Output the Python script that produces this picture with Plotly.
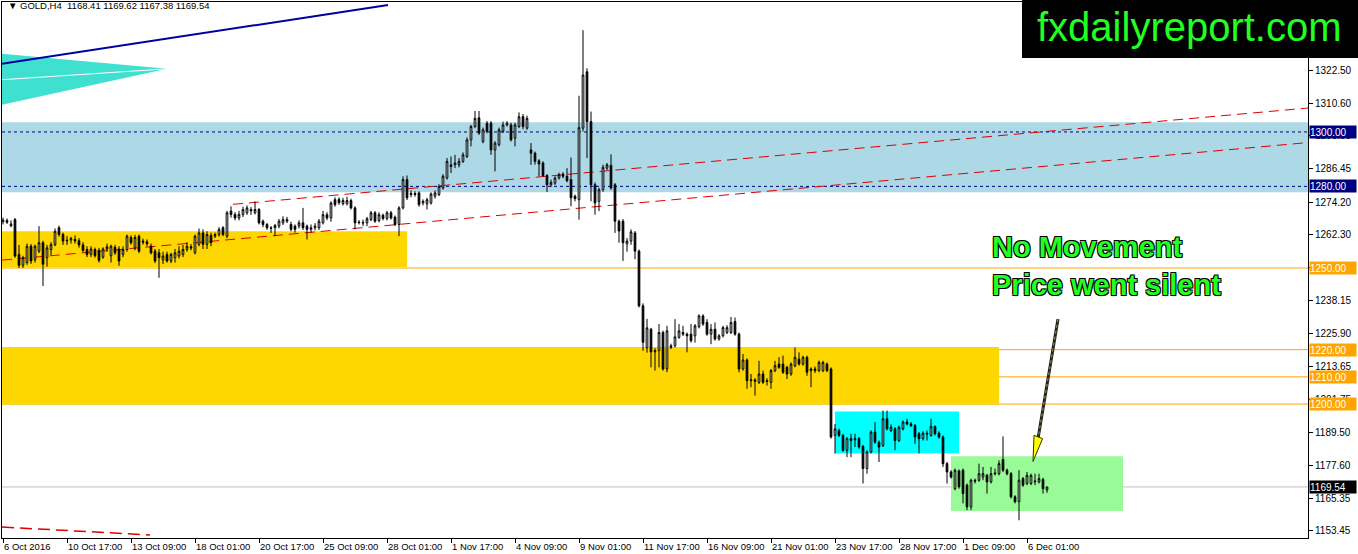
import plotly.graph_objects as go

# ---------------- data (GOLD, H4) ----------------
opens = [
 1267.0,1267.5,1265.5,1267.8,1255.0,1251.0,1252.0,1258.0,1253.0,1256.2,
 1259.3,1253.8,1256.8,1258.6,1264.8,1262.3,1260.2,1260.3,1260.5,1260.0,
 1258.5,1256.8,1255.0,1256.8,1256.5,1254.0,1257.0,1254.5,1257.6,1257.0,
 1255.0,1256.8,1261.2,1257.4,1261.7,1259.9,1259.6,1258.0,1256.2,1255.6,
 1253.0,1255.0,1252.6,1253.8,1254.4,1255.0,1256.8,1257.8,1255.6,1258.7,
 1262.9,1258.7,1262.0,1261.7,1262.3,1264.8,1261.7,1270.9,1269.7,1268.4,
 1269.6,1270.3,1271.5,1270.3,1271.5,1267.2,1266.0,1264.8,1264.8,1265.4,
 1266.6,1267.2,1266.0,1265.4,1265.4,1266.6,1265.4,1264.2,1264.8,1264.8,
 1266.6,1269.6,1268.4,1275.1,1275.2,1273.6,1273.6,1274.8,1272.1,1266.9,
 1266.5,1266.6,1267.8,1270.3,1267.4,1269.4,1268.2,1270.3,1268.7,1266.0,
 1272.1,1282.5,1277.0,1277.4,1277.6,1273.9,1273.6,1273.9,1276.4,1277.0,
 1279.4,1283.1,1287.9,1287.9,1287.9,1289.2,1291.0,1297.1,1302.0,1305.2,
 1296.5,1303.2,1303.2,1293.4,1295.3,1300.2,1302.6,1302.6,1297.7,1302.0,
 1305.6,1301.4,1293.4,1292.2,1289.4,1288.6,1284.0,1280.6,1281.2,1283.1,
 1284.5,1283.7,1282.5,1276.4,1275.1,1301.4,1322.1,1303.8,1280.6,1274.5,
 1278.8,1286.7,1287.7,1280.6,1267.2,1267.2,1258.9,1259.9,1262.9,1256.2,
 1236.1,1220.7,1227.5,1219.2,1219.6,1226.3,1212.9,1221.4,1221.4,1224.5,
 1226.3,1225.7,1225.7,1225.1,1228.4,1232.4,1230.0,1225.7,1227.5,1223.9,
 1225.1,1226.3,1226.3,1230.3,1225.7,1212.9,1216.2,1208.6,1208.9,1208.0,
 1211.05,1208.6,1208.0,1212.3,1214.7,1214.7,1213.5,1211.05,1214.1,1216.5,
 1214.7,1217.2,1212.3,1212.9,1212.3,1212.3,1214.7,1212.9,1188.5,1190.3,
 1188.5,1183.0,1187.3,1186.9,1187.3,1184.4,1176.3,1182.4,1189.7,1186.0,
 1184.8,1194.6,1190.3,1190.9,1186.6,1190.9,1193.4,1192.7,1192.1,1189.1,
 1187.3,1189.3,1188.5,1191.8,1189.3,1187.9,1178.1,1175.05,1168.9,1175.4,
 1175.7,1170.2,1162.2,1172.0,1172.0,1173.2,1173.8,1171.4,1174.7,1174.4,
 1179.6,1175.7,1174.4,1165.9,1164.1,1172.6,1170.8,1170.8,1171.4,1171.4,
 1172.3,1168.41]
highs = [
 1268.5,1268.2,1267.5,1268.4,1258.5,1254.5,1259.0,1258.8,1258.6,1265.4,
 1260.0,1258.5,1259.5,1264.5,1265.6,1263.0,1261.7,1261.5,1262.0,1261.0,
 1259.5,1258.0,1258.0,1257.5,1257.4,1257.6,1259.0,1258.6,1258.5,1258.0,
 1258.0,1262.3,1262.0,1262.2,1262.3,1260.8,1260.5,1259.0,1257.0,1257.0,
 1256.0,1256.0,1255.6,1257.0,1258.0,1258.5,1259.5,1258.8,1262.3,1264.5,
 1264.2,1263.5,1263.0,1263.0,1265.0,1265.4,1271.0,1272.7,1270.5,1271.0,
 1272.5,1273.0,1272.4,1274.5,1272.0,1267.8,1266.6,1265.4,1266.2,1268.0,
 1269.0,1268.8,1267.0,1266.0,1267.5,1272.1,1266.0,1266.0,1266.5,1268.0,
 1271.0,1270.5,1274.5,1276.0,1276.0,1275.8,1276.2,1275.5,1272.7,1267.6,
 1267.8,1268.8,1271.0,1270.9,1270.5,1270.0,1271.0,1271.0,1269.3,1272.7,
 1283.7,1284.0,1278.5,1278.2,1278.2,1275.2,1275.8,1277.8,1278.5,1280.8,
 1284.5,1290.4,1291.0,1291.6,1290.4,1292.5,1298.0,1302.6,1307.7,1307.7,
 1301.6,1304.0,1304.0,1296.6,1301.6,1303.8,1304.0,1303.4,1303.4,1307.2,
 1306.6,1306.0,1295.9,1292.8,1290.0,1289.2,1284.5,1282.5,1283.7,1285.0,
 1285.2,1286.7,1290.6,1277.0,1313.3,1337.4,1323.4,1307.5,1281.5,1279.5,
 1288.0,1288.6,1291.8,1281.2,1267.8,1268.0,1261.0,1264.2,1263.6,1256.8,
 1237.0,1231.3,1228.0,1220.5,1229.4,1227.0,1228.75,1222.2,1231.2,1229.4,
 1228.75,1226.3,1229.4,1229.4,1233.0,1233.0,1231.2,1229.4,1230.0,1225.7,
 1228.75,1229.0,1232.0,1231.8,1226.3,1218.4,1216.8,1211.05,1209.5,1215.9,
 1212.3,1209.5,1212.9,1215.9,1217.2,1217.8,1214.1,1215.3,1220.8,1219.0,
 1217.8,1217.8,1213.5,1213.8,1216.0,1215.9,1215.3,1213.5,1192.7,1191.0,
 1189.1,1187.9,1189.1,1189.1,1187.9,1185.0,1183.0,1190.3,1193.4,1186.6,
 1197.6,1197.6,1192.5,1191.5,1192.1,1194.0,1194.6,1193.4,1192.7,1189.7,
 1190.0,1190.3,1194.6,1192.1,1190.0,1188.5,1178.7,1175.7,1176.3,1176.0,
 1176.3,1170.8,1172.6,1172.6,1178.1,1176.9,1174.4,1176.9,1176.3,1179.3,
 1188.1,1176.3,1175.05,1166.5,1175.7,1173.2,1175.05,1174.4,1174.4,1174.4,
 1172.9,1169.62]
lows = [
 1266.0,1266.2,1265.0,1253.8,1250.0,1250.0,1251.2,1251.5,1252.0,1255.5,
 1243.4,1250.5,1254.8,1258.0,1261.5,1258.5,1258.5,1259.0,1259.0,1257.5,
 1255.8,1254.0,1254.0,1253.8,1252.0,1253.4,1256.0,1252.0,1254.8,1250.8,
 1254.0,1256.0,1258.6,1256.5,1255.5,1258.6,1258.0,1255.0,1251.8,1246.4,
 1251.5,1252.0,1251.8,1252.0,1253.5,1254.0,1256.0,1256.5,1255.0,1258.0,
 1257.0,1257.0,1258.0,1261.0,1261.5,1261.7,1261.0,1268.5,1267.5,1267.5,
 1268.7,1269.5,1269.5,1269.7,1266.0,1265.0,1264.0,1262.9,1261.7,1264.6,
 1265.8,1266.5,1263.5,1263.0,1264.5,1264.0,1260.5,1263.0,1263.8,1264.0,
 1266.0,1267.6,1267.0,1272.5,1273.2,1273.0,1273.0,1271.5,1264.2,1266.0,
 1265.4,1265.4,1267.2,1266.6,1266.8,1267.5,1267.5,1267.8,1265.4,1261.7,
 1271.5,1275.0,1276.0,1276.2,1272.5,1273.0,1271.5,1273.3,1275.5,1276.4,
 1278.8,1282.5,1284.9,1286.7,1287.0,1288.6,1290.4,1294.7,1301.4,1298.9,
 1295.8,1299.5,1291.6,1285.5,1294.7,1299.6,1302.0,1296.5,1294.7,1301.4,
 1301.0,1300.8,1287.9,1288.0,1283.7,1283.5,1277.9,1279.8,1280.5,1282.5,
 1283.0,1281.5,1272.7,1274.5,1267.8,1300.2,1290.4,1274.5,1269.6,1270.9,
 1278.0,1286.0,1278.8,1262.9,1259.3,1252.6,1256.0,1258.5,1253.2,1235.5,
 1219.6,1218.9,1213.5,1212.3,1213.5,1212.3,1211.7,1220.2,1220.8,1224.0,
 1225.0,1219.0,1222.6,1222.6,1227.8,1228.75,1225.1,1222.0,1223.3,1223.3,
 1224.5,1225.7,1225.7,1225.1,1211.7,1212.3,1205.6,1206.2,1203.1,1207.4,
 1207.4,1206.8,1205.6,1211.7,1212.9,1211.05,1209.2,1210.4,1213.5,1214.1,
 1214.1,1210.4,1206.2,1211.4,1211.7,1211.7,1211.7,1187.3,1181.8,1187.9,
 1182.4,1180.5,1180.5,1184.2,1183.6,1170.8,1174.4,1181.8,1185.4,1178.7,
 1184.2,1190.3,1189.7,1183.0,1186.0,1190.3,1192.1,1191.5,1185.4,1181.8,
 1186.6,1186.6,1188.0,1188.5,1187.3,1176.9,1170.8,1172.6,1168.3,1168.9,
 1163.5,1161.0,1161.0,1170.8,1171.4,1172.0,1167.1,1170.8,1173.8,1173.8,
 1175.0,1173.8,1165.3,1163.5,1157.3,1169.6,1170.2,1170.2,1170.2,1170.8,
 1167.1,1167.38]
closes = [
 1267.6,1266.8,1266.2,1254.4,1251.0,1253.8,1258.0,1252.6,1258.0,1259.3,
 1251.4,1257.4,1258.6,1263.5,1262.3,1259.9,1260.0,1260.8,1260.0,1258.5,
 1256.5,1255.0,1257.0,1254.5,1252.8,1257.0,1257.8,1258.0,1255.6,1252.6,
 1256.8,1261.7,1259.3,1261.2,1256.2,1259.5,1258.9,1255.6,1252.6,1253.8,
 1254.4,1252.6,1255.0,1255.6,1256.2,1256.8,1258.0,1257.4,1261.7,1262.9,
 1258.7,1262.3,1259.3,1262.3,1264.2,1262.3,1270.3,1269.7,1268.4,1269.7,
 1271.5,1272.1,1271.0,1271.5,1266.6,1266.0,1264.8,1264.6,1265.6,1267.2,
 1267.8,1267.8,1264.2,1264.2,1266.6,1264.8,1264.2,1264.8,1265.4,1267.2,
 1269.6,1268.4,1273.9,1273.3,1274.0,1274.8,1274.8,1272.1,1266.6,1266.7,
 1266.7,1268.1,1270.3,1267.2,1269.6,1268.2,1270.3,1268.4,1266.0,1272.1,
 1282.5,1275.8,1277.4,1277.0,1273.3,1274.5,1275.1,1277.2,1277.6,1280.0,
 1283.7,1289.2,1287.3,1288.6,1289.2,1291.6,1297.1,1302.0,1305.0,1299.6,
 1300.8,1300.2,1293.4,1295.9,1300.8,1302.6,1303.2,1297.1,1302.6,1305.6,
 1302.0,1305.0,1292.2,1289.2,1288.2,1284.0,1280.6,1281.5,1283.1,1284.3,
 1283.7,1282.1,1275.8,1275.5,1301.6,1320.9,1303.8,1280.6,1273.9,1278.8,
 1287.0,1287.9,1279.4,1267.2,1263.6,1259.3,1259.9,1263.3,1256.2,1236.1,
 1222.7,1228.0,1219.2,1219.6,1226.3,1212.9,1226.9,1220.9,1224.7,1226.9,
 1225.7,1225.1,1223.3,1228.75,1232.4,1229.4,1225.7,1227.5,1223.9,1225.1,
 1228.1,1228.1,1230.0,1225.7,1212.9,1216.2,1208.6,1208.9,1208.4,1211.05,
 1208.0,1208.3,1212.3,1214.1,1213.5,1211.7,1211.05,1214.7,1217.2,1214.7,
 1217.2,1211.7,1212.9,1212.3,1215.3,1215.3,1212.3,1187.9,1190.9,1188.5,
 1183.0,1187.3,1186.6,1187.3,1184.2,1176.3,1182.4,1189.7,1186.0,1184.2,
 1194.6,1190.9,1191.5,1186.6,1191.5,1193.4,1192.7,1192.1,1187.9,1187.3,
 1189.3,1189.0,1191.8,1189.1,1187.9,1178.1,1175.05,1173.2,1175.7,1169.6,
 1167.1,1162.2,1172.0,1171.7,1174.4,1174.4,1171.4,1174.4,1174.4,1178.1,
 1175.7,1174.4,1165.9,1164.1,1172.0,1170.2,1173.8,1173.8,1171.7,1172.6,
 1168.9,1169.54]

date_ticks = [0, 16, 32, 48, 64, 80, 96, 112, 128, 144, 160, 176, 192, 208, 224, 240, 256]
date_labels = ["6 Oct 2016", "10 Oct 17:00", "13 Oct 09:00", "18 Oct 01:00", "20 Oct 17:00",
               "25 Oct 09:00", "28 Oct 01:00", "1 Nov 17:00", "4 Nov 09:00", "9 Nov 01:00",
               "11 Nov 17:00", "16 Nov 09:00", "21 Nov 01:00", "23 Nov 17:00", "28 Nov 17:00",
               "1 Dec 09:00", "6 Dec 01:00"]
price_ticks = [1153.45, 1165.35, 1177.60, 1189.50, 1201.75, 1213.65, 1225.90, 1238.15,
               1250.25, 1262.30, 1274.20, 1286.45, 1298.55, 1310.60, 1322.50]

# horizontal levels
level_navy = [1300.0, 1280.0]
level_orange = [1250.0, 1220.0, 1210.0, 1200.0]
bid = 1169.54

idx = list(range(len(opens)))

FONT = "Liberation Sans"
fig = go.Figure()
fig.add_trace(go.Candlestick(
    x=idx, open=opens, high=highs, low=lows, close=closes,
    increasing=dict(line=dict(color="black", width=1), fillcolor="white"),
    decreasing=dict(line=dict(color="black", width=1), fillcolor="black"),
    whiskerwidth=0, showlegend=False, hoverinfo="skip"))

shapes = []
def rect(x0, x1, y0, y1, color, xref="x"):
    shapes.append(dict(type="rect", xref=xref, yref="y", x0=x0, x1=x1, y0=y0, y1=y1,
                       fillcolor=color, line=dict(width=0), layer="below"))

# zones
rect(0, 1, 1277.8, 1303.6, "#ADD8E6", xref="paper")
rect(-0.25, 101, 1250.3, 1263.5, "#FFD700")
rect(-0.25, 249, 1199.8, 1221.0, "#FFD700")
rect(208, 239, 1181.9, 1197.3, "#00FFFF")
rect(237, 280, 1160.7, 1180.8, "#98FB98")

# turquoise fan
shapes.append(dict(type="path", xref="x", yref="y", layer="below",
                   path="M -0.25 1328.7 L 41 1323.2 L -0.25 1310.0 Z",
                   fillcolor="#40E0D0", line=dict(width=0)))
shapes.append(dict(type="line", xref="x", yref="y", layer="below",
                   x0=-0.25, y0=1319.2, x1=41, y1=1323.2, line=dict(color="white", width=1)))

# horizontal lines
for lv in level_navy:
    shapes.append(dict(type="line", xref="paper", yref="y", x0=0, x1=1, y0=lv, y1=lv,
                       layer="below", line=dict(color="#000080", width=1, dash="3px,3px")))
for lv in level_orange:
    shapes.append(dict(type="line", xref="paper", yref="y", x0=0, x1=1, y0=lv, y1=lv,
                       layer="below", line=dict(color="#FFA500", width=1)))
shapes.append(dict(type="line", xref="paper", yref="y", x0=0, x1=1, y0=bid, y1=bid,
                   layer="below", line=dict(color="#C0C0C0", width=1)))

# red dashed trend lines
red = dict(color="#E00000", width=1, dash="10px,6px")
shapes.append(dict(type="line", xref="x", yref="y", x0=57.5, y0=1273.4, x1=326.25, y1=1308.8,
                   layer="below", line=red))
shapes.append(dict(type="line", xref="x", yref="y", x0=-0.25, y0=1252.9, x1=326.25, y1=1296.1,
                   layer="below", line=red))
shapes.append(dict(type="line", xref="x", yref="y", x0=-0.25, y0=1154.8, x1=36.75, y1=1151.9,
                   layer="below", line=dict(color="#E00000", width=1.5, dash="12px,6px")))
# navy trend line
shapes.append(dict(type="line", xref="x", yref="y", x0=-0.25, y0=1325.06, x1=96.25, y1=1346.66,
                   layer="below", line=dict(color="#0000A0", width=2)))

# arrow
shapes.append(dict(type="line", xref="x", yref="y", x0=263.75, y0=1231.3, x1=258.6, y1=1186.0,
                   layer="above", line=dict(color="#222222", width=3)))
shapes.append(dict(type="line", xref="x", yref="y", x0=263.75, y0=1231.3, x1=258.6, y1=1186.0,
                   layer="above", line=dict(color="#A0A040", width=1, dash="3px,3px")))
shapes.append(dict(type="path", xref="x", yref="y", layer="above",
                   path="M 257.5 1178.9 L 257.75 1188.5 L 259.9 1187.3 Z",
                   fillcolor="#FFFF00", line=dict(color="#333300", width=1)))

# watermark box
shapes.append(dict(type="rect", xref="paper", yref="paper", x0=0.781, x1=1.05, y0=0.8955, y1=1.02,
                   fillcolor="black", line=dict(width=0), layer="above"))

annotations = []
# right-axis price labels
def plabel(v, bg):
    annotations.append(dict(xref="paper", yref="y", x=1, y=v, xanchor="left", yanchor="middle",
                            xshift=1, text=f"{v:.2f}", showarrow=False, bgcolor=bg,
                            font=dict(family=FONT, size=10, color="white"),
                            width=46, height=12, align="left", borderpad=0))
for lv in level_navy:
    plabel(lv, "#000080")
for lv in level_orange:
    plabel(lv, "#FFA500")
plabel(bid, "black")

annotations.append(dict(xref="paper", yref="paper", x=0.003, y=0.993, xanchor="left", yanchor="middle",
                        text="▼ GOLD,H4  %.2f %.2f %.2f %.2f" % (opens[-1], highs[-1], lows[-1], closes[-1]),
                        showarrow=False, font=dict(family=FONT, size=9.5, color="black")))
annotations.append(dict(xref="paper", yref="paper", x=0.9096, y=0.9534, xanchor="center", yanchor="middle",
                        text="fxdailyreport.com", showarrow=False,
                        font=dict(family=FONT, size=40, color="#22FF22")))
shadow = "1px 1px 0 #000, -1px -1px 0 #000, 1px -1px 0 #000, -1px 1px 0 #000"
annotations.append(dict(xref="paper", yref="paper", x=0.7565, y=0.5429, xanchor="left", yanchor="middle",
                        text="<b>No Movement</b>", showarrow=False,
                        font=dict(family=FONT, size=29, color="#22FF22", shadow=shadow)))
annotations.append(dict(xref="paper", yref="paper", x=0.7565, y=0.472, xanchor="left", yanchor="middle",
                        text="<b>Price went silent</b>", showarrow=False,
                        font=dict(family=FONT, size=29, color="#22FF22", shadow=shadow)))

fig.update_layout(
    width=1358, height=554, margin=dict(l=2, r=50, t=2, b=16, autoexpand=False),
    paper_bgcolor="white", plot_bgcolor="white",
    shapes=shapes, annotations=annotations, boxgap=0.4,
    xaxis=dict(range=[-0.25, 326.25], showgrid=False, zeroline=False, showline=True,
               linecolor="black", linewidth=1, mirror=True, ticks="outside", ticklen=4,
               tickcolor="black", tickvals=date_ticks, ticktext=date_labels, tickangle=0,
               ticklabelposition="outside right", rangeslider=dict(visible=False),
               automargin=False, ticklabelstandoff=0,
               tickfont=dict(family=FONT, size=9.5, color="black")),
    yaxis=dict(range=[1150.78, 1347.76], side="right", showgrid=False, zeroline=False,
               showline=True, linecolor="black", linewidth=1, mirror=True, ticks="outside",
               ticklen=4, tickcolor="black", tickvals=price_ticks, automargin=False,
               ticktext=[f"{v:.2f}" for v in price_ticks],
               tickfont=dict(family=FONT, size=10, color="black")),
)
fig.write_html("out.html", config={"displayModeBar": False},
               post_script="document.body.style.margin='0';document.body.style.padding='0';")
